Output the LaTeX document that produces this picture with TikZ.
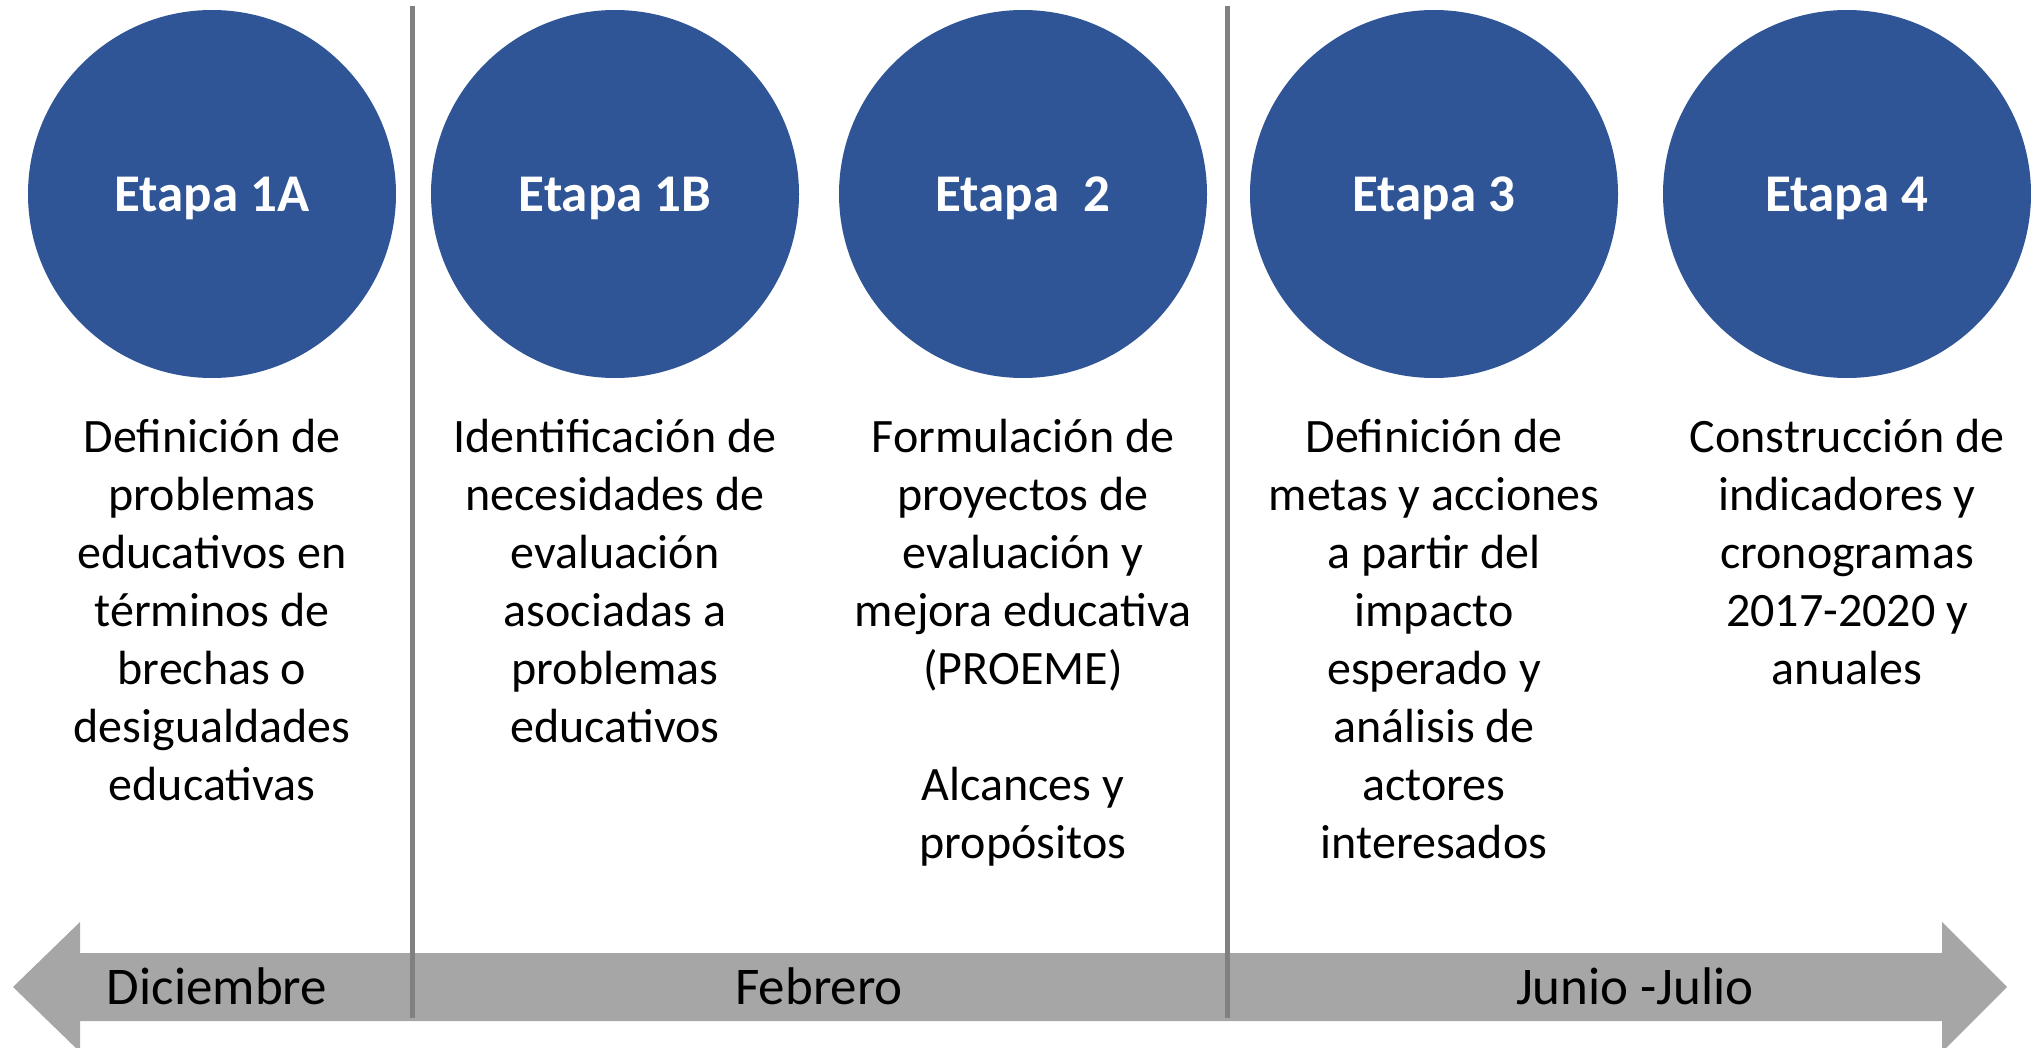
\documentclass[tikz,border=0pt]{standalone}
\usepackage{fontspec}
\setmainfont{Carlito}
\definecolor{etapablue}{HTML}{2F5597}
\definecolor{arrowgray}{HTML}{A6A6A6}
\definecolor{divgray}{HTML}{808080}
\tikzset{
  etapa/.style={circle, fill=etapablue, minimum size=368pt, inner sep=0pt, text=white,
    text depth=0pt, font=\fontsize{53}{63}\selectfont\bfseries},
  desc/.style={anchor=base, align=center, inner sep=0pt, font=\fontsize{48}{58}\selectfont},
  month/.style={anchor=base, inner sep=0pt, font=\fontsize{53}{63}\selectfont},
  divider/.style={draw=divgray, line width=5pt},
}
\begin{document}
\begin{tikzpicture}[x=1pt,y=-1pt]
\useasboundingbox (0,0) rectangle (2031,1048);
% timeline arrow
\fill[arrowgray] (13,987) -- (80,922) -- (80,953) -- (1942,953) -- (1942,922) -- (2007,987)
  -- (1942,1052) -- (1942,1021) -- (80,1021) -- (80,1052) -- cycle;
% dividers
\coordinate (d1t) at (412,6);
\coordinate (d1b) at (412,1018);
\coordinate (d2t) at (1227,6);
\coordinate (d2b) at (1227,1018);
\draw[divider] (d1t) -- (d1b);
\draw[divider] (d2t) -- (d2b);
% circles
\node[etapa] (e1a) at (212,194) {Etapa 1A};
\node[etapa] (e1b) at (615,194) {Etapa 1B};
\node[etapa] (e2) at (1023,194) {Etapa\ \ 2};
\node[etapa] (e3) at (1434,194) {Etapa 3};
\node[etapa] (e4) at (1847,194) {Etapa 4};
% descriptions (base anchor = baseline of last line)
\node[desc] (t1a) at (212,800) {Definición de\\problemas\\educativos en\\términos de\\brechas o\\desigualdades\\educativas};
\node[desc] (t1b) at (615,742) {Identificación de\\necesidades de\\evaluación\\asociadas a\\problemas\\educativos};
\node[desc] (t2) at (1023,858) {Formulación de\\proyectos de\\evaluación y\\mejora educativa\\(PROEME)\\[58pt]Alcances y\\propósitos};
\node[desc] (t3) at (1434,858) {Definición de\\metas y acciones\\a partir del\\impacto\\esperado y\\análisis de\\actores\\interesados};
\node[desc] (t4) at (1847,684) {Construcción de\\indicadores y\\cronogramas\\2017-2020 y\\anuales};
% months
\node[month] (m1) at (217,1004) {Diciembre};
\node[month] (m2) at (819,1004) {Febrero};
\node[month] (m3) at (1635,1004) {Junio -Julio};
\end{tikzpicture}
\end{document}
